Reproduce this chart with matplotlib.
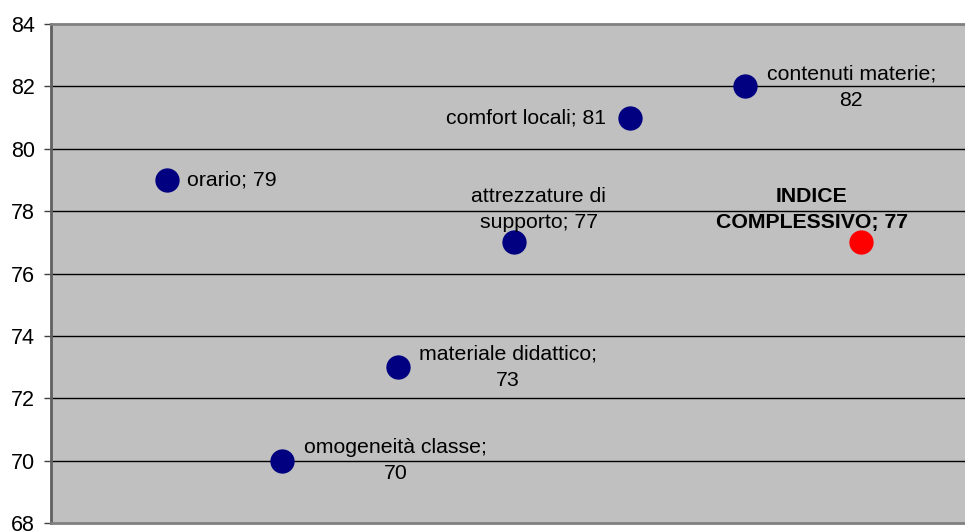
import matplotlib.pyplot as plt

# punteggi per area di valutazione
categorie = ['orario', 'omogeneità classe', 'materiale didattico',
             'attrezzature di supporto', 'comfort locali',
             'contenuti materie', 'INDICE COMPLESSIVO']
valori = [79, 70, 73, 77, 81, 82, 77]
etichette = ['orario; 79', 'omogeneità classe;\n70', 'materiale didattico;\n73',
             'attrezzature di\nsupporto; 77', 'comfort locali; 81',
             'contenuti materie;\n82', 'INDICE\nCOMPLESSIVO; 77']
y_ticks = [68, 70, 72, 74, 76, 78, 80, 82, 84]

# posizione etichette (pixel rispetto al punto): dx, dy, allineamento
offset = [(20, 0, 'left'), (113, 0, 'center'), (110, 0, 'center'),
          (25, 33, 'center'), (-23, 0, 'right'), (106, -1, 'center'),
          (-49, 33, 'center')]

plt.rcParams['font.family'] = ['Liberation Sans', 'DejaVu Sans']

fig = plt.figure(figsize=(9.65, 5.32), dpi=100)
ax = fig.add_axes([51 / 965, 1 - 523 / 532, (965 - 51) / 965, 499 / 532])
ax.set_facecolor('#C0C0C0')

x = list(range(1, len(valori) + 1))
colori = ['#000080'] * (len(valori) - 1) + ['#FF0000']
for xi, v, c in zip(x, valori, colori):
    ax.plot(xi, v, 'o', color=c, markersize=16.5, zorder=3)

for xi, v, lab, (dx, dy, ha) in zip(x, valori, etichette, offset):
    peso = 'bold' if lab.startswith('INDICE') else 'normal'
    ax.annotate(lab, (xi, v), xytext=(dx, dy), textcoords='offset pixels',
                ha=ha, va='center', multialignment='center',
                fontsize=15.3, fontweight=peso, linespacing=1.5, zorder=4)

ax.set_ylim(68, 84)
ax.set_xlim(0, (965 - 51) / 115.7)
ax.set_yticks(y_ticks)
ax.tick_params(axis='y', labelsize=15.5, length=5, width=1, color='#404040', pad=6.5)
ax.set_xticks([])

for t in y_ticks[1:-1]:
    ax.axhline(t, color='black', linewidth=1, zorder=1)

ax.spines['left'].set_color('#606060')
ax.spines['left'].set_linewidth(2)
ax.spines['top'].set_color('#808080')
ax.spines['top'].set_linewidth(2)
ax.spines['bottom'].set_color('#808080')
ax.spines['bottom'].set_linewidth(2)
ax.spines['right'].set_visible(False)

fig.savefig('out.png', dpi=100)
